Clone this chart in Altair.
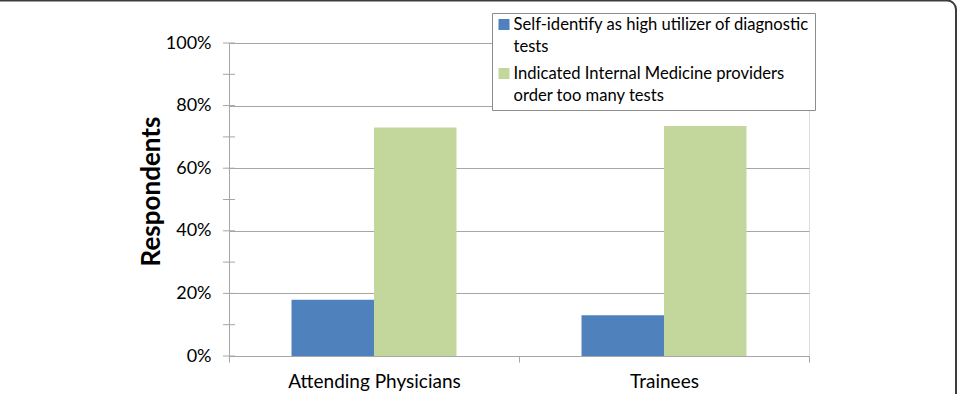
import altair as alt
import pandas as pd

# Survey results: share of respondents per group
categories = ["Attending Physicians", "Trainees"]
series_names = [
    "Self-identify as high utilizer of diagnostic tests",
    "Indicated Internal Medicine providers order too many tests",
]
self_identify = [18, 13]
too_many_tests = [73, 73.5]

series_colors = ["#4F81BD", "#C3D69B"]
y_ticks = [0, 20, 40, 60, 80, 100]
minor_ticks = [0, 10, 20, 30, 40, 50, 60, 70, 80, 90, 100]

# Wrapped legend labels (two lines each)
wrapped = {
    series_names[0]: ["Self-identify as high utilizer of diagnostic", "tests"],
    series_names[1]: ["Indicated Internal Medicine providers", "order too many tests"],
}

rows = []
for cat, a, b in zip(categories, self_identify, too_many_tests):
    rows.append({"group": cat, "series": series_names[0], "pct": a})
    rows.append({"group": cat, "series": series_names[1], "pct": b})
df = pd.DataFrame(rows)

label_expr = " : ".join(
    [f"datum.label == '{k}' ? {v!r}" for k, v in wrapped.items()] + ["datum.label"]
)

FONT = "Lato"
GRID = "#A6A6A6"

# Small square swatch inside a larger symbol cell, raised to sit
# beside the first line of each wrapped label
SWATCH = "M-0.478,-0.913H0.478V0.043H-0.478Z"

y_scale = alt.Scale(domain=[0, 100], nice=False)

bars = alt.Chart(df).mark_bar().encode(
    x=alt.X(
        "group:N",
        sort=categories,
        scale=alt.Scale(paddingInner=0, paddingOuter=0),
        axis=alt.Axis(
            title=None,
            labelAngle=0,
            labelFont=FONT,
            labelFontSize=19,
            labelColor="#000000",
            labelPadding=10,
            domainColor=GRID,
            tickColor=GRID,
            tickSize=6,
            tickBand="extent",
            grid=False,
        ),
    ),
    xOffset=alt.XOffset(
        "series:N",
        sort=series_names,
        scale=alt.Scale(paddingInner=0, paddingOuter=0.758),
    ),
    y=alt.Y(
        "pct:Q",
        scale=y_scale,
        axis=alt.Axis(
            title="Respondents",
            titleFont=FONT,
            titleFontSize=26,
            titleFontWeight="bold",
            titleColor="#000000",
            titleX=-65,
            titleY=148,
            titleAngle=270,
            titleAlign="center",
            values=y_ticks,
            labelExpr="datum.value + '%'",
            labelFont=FONT,
            labelFontSize=18,
            labelColor="#000000",
            labelPadding=18,
            ticks=False,
            domainColor=GRID,
            gridColor=GRID,
            grid=True,
        ),
    ),
    color=alt.Color(
        "series:N",
        sort=series_names,
        scale=alt.Scale(domain=series_names, range=series_colors),
        legend=alt.Legend(
            title=None,
            orient="none",
            legendX=263,
            legendY=-30,
            direction="vertical",
            symbolType=SWATCH,
            symbolSize=529,
            symbolOffset={"expr": "-4.5"},
            symbolStrokeWidth=0,
            labelFont=FONT,
            labelFontSize=16.6,
            labelLimit=500,
            labelColor="#000000",
            labelBaseline="alphabetic",
            labelOffset={"expr": "-2"},
            labelExpr=label_expr,
            fillColor="white",
            strokeColor="#8C8C8C",
            padding=5,
            rowPadding=9,
        ),
    ),
)

# Tick marks crossing the value axis every 10%
axis_ticks = alt.Chart(pd.DataFrame({"v": minor_ticks})).mark_rule(
    color=GRID, strokeWidth=1
).encode(
    y=alt.Y("v:Q", scale=y_scale),
    x=alt.value(-6),
    x2=alt.value(6),
)

# Figure frame with rounded corner
frame = alt.Chart(alt.Data(values=[{}])).mark_rect(
    fill="white", fillOpacity=0, stroke="#3C3C3C", strokeWidth=2, cornerRadius=9
).encode(
    x=alt.value(-240),
    x2=alt.value(727),
    y=alt.value(-42.5),
    y2=alt.value(420),
)

chart = (
    alt.layer(axis_ticks, bars, frame)
    .properties(
        width=580,
        height=313,
        autosize=alt.AutoSizeParams(type="none"),
        padding={"left": 229, "top": 43, "right": 152, "bottom": 38},
    )
    .configure_view(strokeWidth=0)
    .configure(background="white", style={"guide-label": {"lineHeight": 22}})
)

chart.save("out.html", embed_options={"renderer": "svg", "actions": False})
